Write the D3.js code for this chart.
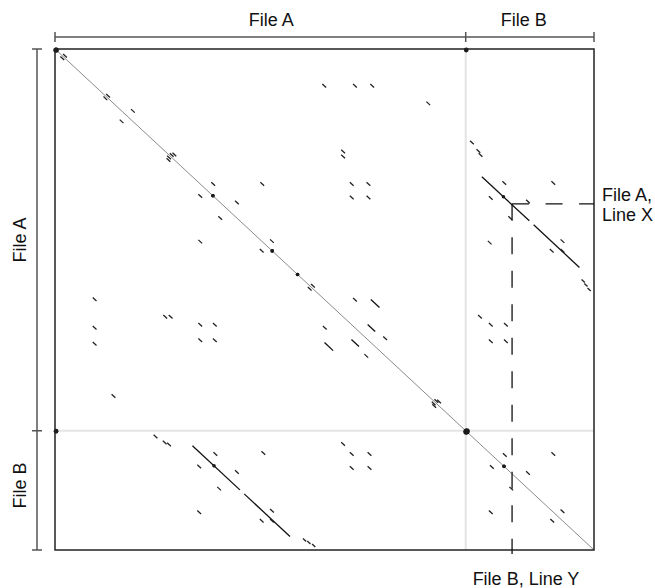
<!DOCTYPE html>
<html><head><meta charset="utf-8">
<script src="https://cdn.jsdelivr.net/npm/d3@7"></script>
<style>body{margin:0;background:#fff} text{font-family:"Liberation Sans",Arial,sans-serif;fill:#111}</style>
</head><body><svg id="c" width="655" height="588"></svg>
<script>
// Two files concatenated: line counts (total 1000 lines)
const files = ["File A", "File B"];
const fileLines = [762, 238];
// Short matches (upper triangle, mirrored): [column line, row line, length]
const shortMatches = [
  [15,10,7],[95,90,7],[141,120,7],[213,208,7],[218,207,7],[290,266,7],[334,303,7],[381,266,7],[399,380,7],[475,469,7],
  [496,70,7],[553,70,7],[585,70,7],[689,105,7],[531,201,7],[531,211,7],[547,266,7],[578,266,7],[547,293,7],[578,293,7],
  [553,497,7],[609,574,7],[704,699,7],[709,700,7],
  [770,183,7],[782,200,7],[786,208,7],[830,264,7],[921,264,7],[805,294,7],[874,301,7],[841,334,7],[803,383,7],[938,380,7],[918,399,7],[938,399,7],
  [977,460,6],[982,468,6],[988,477,6],
  [785,531,7],[805,547,7],[805,580,7],[833,547,7],[833,580,7],
  [831,807,7],[921,805,7],[874,843,7],[938,919,7]
];
// Longer matching runs (upper triangle, mirrored)
const longMatches = [[586,500,16],[580,550,14],[792,255,88],[888,351,85]];
// Dense match points: [column line, row line, radius]
const matchDots = [[2,2,2.6],[763,2,2.4],[763,764,3],[293,293,1.8],[403,403,1.8],[450,450,1.8],[833,833,1.8],[832,295,1.8]];
// Highlighted line pair
const lineX = 309;   // File A, Line X (global row)
const lineY = 848;   // File B, Line Y (global column)

const total = d3.sum(fileLines);
const bounds = [0, fileLines[0], total];
const svg = d3.select("#c");
const x = d3.scaleLinear().domain([0, total]).range([55, 594]);
const y = d3.scaleLinear().domain([0, total]).range([49, 550]);

// separators
svg.append("line").attr("x1", x(bounds[1])).attr("x2", x(bounds[1])).attr("y1", y(0)).attr("y2", y(total))
  .attr("stroke", "#e4e4e4").attr("stroke-width", 2);
svg.append("line").attr("y1", y(bounds[1])).attr("y2", y(bounds[1])).attr("x1", x(0)).attr("x2", x(total))
  .attr("stroke", "#e4e4e4").attr("stroke-width", 2);

// main diagonal
svg.append("line").attr("x1", x(0)).attr("y1", y(0)).attr("x2", x(total)).attr("y2", y(total))
  .attr("stroke", "#8a8a8a").attr("stroke-width", 1);

const mirror = arr => arr.flatMap(d => [d, [d[1], d[0], d[2]]]);
svg.append("g").selectAll("line").data(mirror(longMatches)).join("line")
  .attr("x1", d => x(d[0])).attr("y1", d => y(d[1]))
  .attr("x2", d => x(d[0] + d[2])).attr("y2", d => y(d[1] + d[2]))
  .attr("stroke", "#111").attr("stroke-width", 1.3);
svg.append("g").selectAll("line").data(mirror(shortMatches)).join("line")
  .attr("x1", d => x(d[0])).attr("y1", d => y(d[1]))
  .attr("x2", d => x(d[0] + d[2])).attr("y2", d => y(d[1] + d[2]))
  .attr("stroke", "#222").attr("stroke-width", 1.3);
svg.append("g").selectAll("circle").data(mirror(matchDots)).join("circle")
  .attr("cx", d => x(d[0])).attr("cy", d => y(d[1])).attr("r", d => d[2]).attr("fill", "#1a1a1a");

// frame
svg.append("rect").attr("x", x(0)).attr("y", y(0)).attr("width", x(total) - x(0)).attr("height", y(total) - y(0))
  .attr("fill", "none").attr("stroke", "#222").attr("stroke-width", 1.5);

// annotation dashed lines
svg.append("path")
  .attr("d", `M${x(lineY)},${y(lineX)}H${x(total)}`)
  .attr("stroke", "#111").attr("stroke-width", 1.3).attr("fill", "none").attr("stroke-dasharray", "17,16.5");
svg.append("path")
  .attr("d", `M${x(lineY)},${y(lineX)}V${y(total) + 4}`)
  .attr("stroke", "#111").attr("stroke-width", 1.3).attr("fill", "none").attr("stroke-dasharray", "17,16.5");

// top axis
const topAx = svg.append("g");
topAx.append("line").attr("x1", x(0)).attr("x2", x(total)).attr("y1", 37).attr("y2", 37).attr("stroke", "#555").attr("stroke-width", 1.5);
topAx.selectAll(".t").data(bounds).join("line").attr("x1", d => x(d)).attr("x2", d => x(d)).attr("y1", 32).attr("y2", 42)
  .attr("stroke", "#555").attr("stroke-width", 1.5);
const topOff = [11, -6];
topAx.selectAll("text").data(files).join("text")
  .attr("x", (d, i) => (x(bounds[i]) + x(bounds[i + 1])) / 2 + topOff[i]).attr("y", 26)
  .attr("text-anchor", "middle").attr("font-size", 18).text(d => d);

// left axis
const leftAx = svg.append("g");
leftAx.append("line").attr("y1", y(0)).attr("y2", y(total)).attr("x1", 37).attr("x2", 37).attr("stroke", "#555").attr("stroke-width", 1.5);
leftAx.selectAll(".t").data(bounds).join("line").attr("y1", d => y(d)).attr("y2", d => y(d)).attr("x1", 32).attr("x2", 42)
  .attr("stroke", "#555").attr("stroke-width", 1.5);
const leftOff = [0, -5];
leftAx.selectAll("text").data(files).join("text")
  .attr("transform", (d, i) => `translate(26,${(y(bounds[i]) + y(bounds[i + 1])) / 2 + leftOff[i]}) rotate(-90)`)
  .attr("text-anchor", "middle").attr("font-size", 18).text(d => d);

// annotation labels
svg.append("text").attr("x", 602).attr("y", 201).attr("font-size", 18).text("File A,");
svg.append("text").attr("x", 602).attr("y", 221).attr("font-size", 18).text("Line X");
svg.append("text").attr("x", 526).attr("y", 585).attr("text-anchor", "middle").attr("font-size", 18).text("File B, Line Y");
</script></body></html>
